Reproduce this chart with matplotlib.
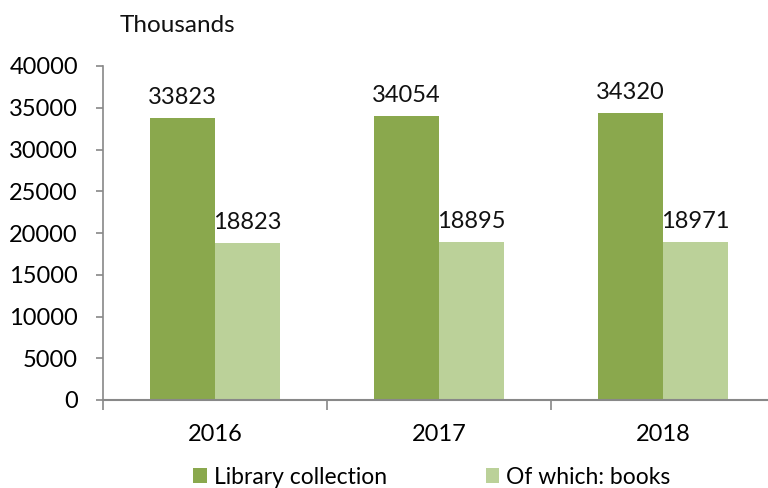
import matplotlib
matplotlib.use("Agg")
import matplotlib.pyplot as plt
import numpy as np

years = ["2016", "2017", "2018"]
library_collection = [33823, 34054, 34320]
books = [18823, 18895, 18971]
series_names = ["Library collection", "Of which: books"]
yticks = [0, 5000, 10000, 15000, 20000, 25000, 30000, 35000, 40000]

plt.rcParams['font.family'] = ['Lato', 'DejaVu Sans']

dark = "#8AA84D"
light = "#BBD199"

fig = plt.figure(figsize=(7.68, 4.88), dpi=100)
ax = fig.add_axes([103/768, 1-400/488, 672/768, (400-66)/488])

x = np.arange(len(years))
w = 0.29
b1 = ax.bar(x - w/2, library_collection, w, color=dark, label=series_names[0])
b2 = ax.bar(x + w/2, books, w, color=light, label=series_names[1])

for bars, vals in ((b1, library_collection), (b2, books)):
    for rect, v in zip(bars, vals):
        ax.text(rect.get_x() + rect.get_width()/2, v + 1200, str(v),
                ha="center", va="bottom", fontsize=17, color="#111111")

ax.set_xlim(-0.5, 2.5)
ax.set_ylim(0, 40000)
ax.set_yticks(yticks)
ax.set_yticklabels([str(t) for t in yticks], fontsize=17)
ax.set_xticks(x)
ax.set_xticklabels(years, fontsize=17)
ax.tick_params(axis="x", length=0, pad=17)
ax.set_xticks([-0.5, 0.5, 1.5, 2.5], minor=True)
ax.tick_params(axis="x", which="minor", length=7, color="#888888", width=1.2)
ax.tick_params(axis="y", length=5, color="#888888", width=1.2, pad=13)

for s in ("top", "right"):
    ax.spines[s].set_visible(False)
ax.spines["left"].set_color("#888888")
ax.spines["bottom"].set_color("#888888")
ax.spines["left"].set_linewidth(1.2)
ax.spines["bottom"].set_linewidth(1.5)

fig.text(120/768, 1-25/488, "Thousands", fontsize=17.5, ha="left", va="center", color="#111111")

leg = fig.legend(handles=[b1, b2], labels=series_names, loc="center",
                 bbox_to_anchor=(432/768, 1-477/488), ncol=2, frameon=False,
                 fontsize=16.5, handlelength=0.6, handleheight=0.6,
                 handletextpad=0.3, columnspacing=4.3)

fig.savefig("out.png", dpi=100)
